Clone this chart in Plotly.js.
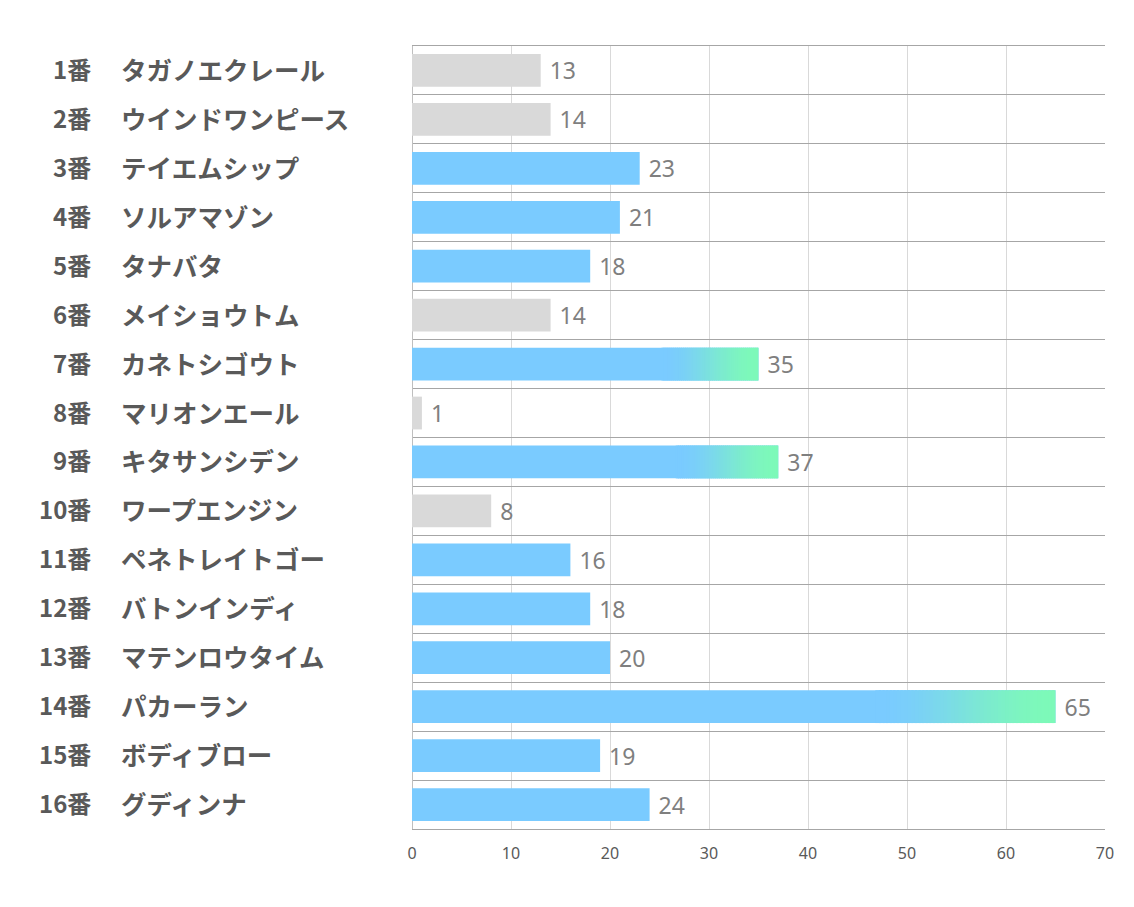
<!DOCTYPE html>
<html>
<head>
<meta charset="utf-8">
<script src="https://cdn.plot.ly/plotly-3.0.1.min.js"></script>
<style>html,body{margin:0;padding:0;background:#fff;}#chart{width:1134px;height:907px;}</style>
</head>
<body>
<div id="chart"></div>
<script>
// ---- data ----
var horseNumbers = ["1番","2番","3番","4番","5番","6番","7番","8番","9番","10番","11番","12番","13番","14番","15番","16番"];
var horseNames = ["タガノエクレール","ウインドワンピース","テイエムシップ","ソルアマゾン","タナバタ","メイショウトム","カネトシゴウト","マリオンエール","キタサンシデン","ワープエンジン","ペネトレイトゴー","バトンインディ","マテンロウタイム","パカーラン","ボディブロー","グディンナ"];
var scores = [13, 14, 23, 21, 18, 14, 35, 1, 37, 8, 16, 18, 20, 65, 19, 24];
// bar style group: "g" = grey, "b" = blue, "t" = blue with green tip (top 3)
var barGroup = ["g","g","b","b","b","g","t","g","t","g","b","b","b","t","b","b"];
var xTicks = [0, 10, 20, 30, 40, 50, 60, 70];

// ---- styling ----
var GREY = "#D9D9D9", BLUE = [122, 203, 255], GREEN = [125, 249, 185];
function rgb(c){ return "rgb(" + c.map(Math.round).join(",") + ")"; }
function mix(a, b, t){ return [0,1,2].map(function(i){ return a[i] + (b[i]-a[i])*t; }); }

var cats = horseNumbers.map(function(n, i){ return n + horseNames[i]; });
var colors = barGroup.map(function(g){ return g === "g" ? GREY : rgb(BLUE); });

var traces = [{
  type: "bar", orientation: "h",
  y: cats, x: scores,
  marker: {color: colors, line: {width: 0}},
  text: scores.map(function(v){ return " " + v; }), textposition: "outside", cliponaxis: false,
  textfont: {family: "Noto Sans, Open Sans, sans-serif", size: 23, color: "#7F7F7F"},
  hoverinfo: "x+y"
}];

// gradient tip for highlighted bars: thin segments over the last part of each bar
var N = 50, startFrac = 0.72;
for (var k = 0; k < N; k++) {
  var ys = [], xs = [], bs = [];
  cats.forEach(function(c, i){
    if (barGroup[i] !== "t") return;
    var v = scores[i];
    var seg = v * (1 - startFrac) / N;
    ys.push(c);
    bs.push(v * startFrac + seg * k);
    xs.push(k === N - 1 ? seg : seg * 1.6);
  });
  var t = k / (N - 1);
  t = t * t * (3 - 2 * t);
  traces.push({
    type: "bar", orientation: "h",
    y: ys, x: xs, base: bs,
    marker: {color: rgb(mix(BLUE, GREEN, t)), line: {width: 0}},
    hoverinfo: "skip", showlegend: false
  });
}

var annotations = [];
cats.forEach(function(c, i){
  annotations.push({
    xref: "paper", yref: "y", x: -0.4603, y: c, xanchor: "right", yanchor: "middle", yshift: 2,
    text: horseNumbers[i], showarrow: false,
    font: {family: "Noto Sans CJK JP, sans-serif", size: 24, color: "#595959", weight: "bold"}
  });
  annotations.push({
    xref: "paper", yref: "y", x: -0.4235, y: c, xanchor: "left", yanchor: "middle", yshift: 2,
    text: horseNames[i], showarrow: false,
    font: {family: "Noto Sans CJK JP, sans-serif", size: 25.5, color: "#595959", weight: "bold"}
  });
});

var layout = {
  width: 1134, height: 907,
  margin: {l: 412, r: 29, t: 46, b: 78},
  paper_bgcolor: "#fff", plot_bgcolor: "#fff",
  barmode: "overlay", bargap: 0.33,
  showlegend: false,
  xaxis: {
    range: [0, 70], tickvals: xTicks, ticktext: xTicks.map(String),
    showgrid: true, gridcolor: "#D9D9D9", gridwidth: 1,
    zeroline: true, zerolinecolor: "#BFBFBF", zerolinewidth: 1,
    showline: true, mirror: true, linecolor: "#A6A6A6", linewidth: 1,
    ticks: "outside", ticklen: 10, tickcolor: "rgba(0,0,0,0)",
    tickfont: {family: "Noto Sans, Open Sans, sans-serif", size: 16, color: "#595959"},
    fixedrange: true
  },
  yaxis: {
    type: "category", categoryorder: "array", categoryarray: cats,
    autorange: "reversed",
    tickson: "boundaries", showgrid: true, gridcolor: "#A6A6A6", gridwidth: 1,
    showticklabels: false, ticks: "", zeroline: false, showline: false,
    fixedrange: true
  },
  annotations: annotations
};

Plotly.newPlot("chart", traces, layout, {displayModeBar: false, staticPlot: true});
</script>
</body>
</html>
